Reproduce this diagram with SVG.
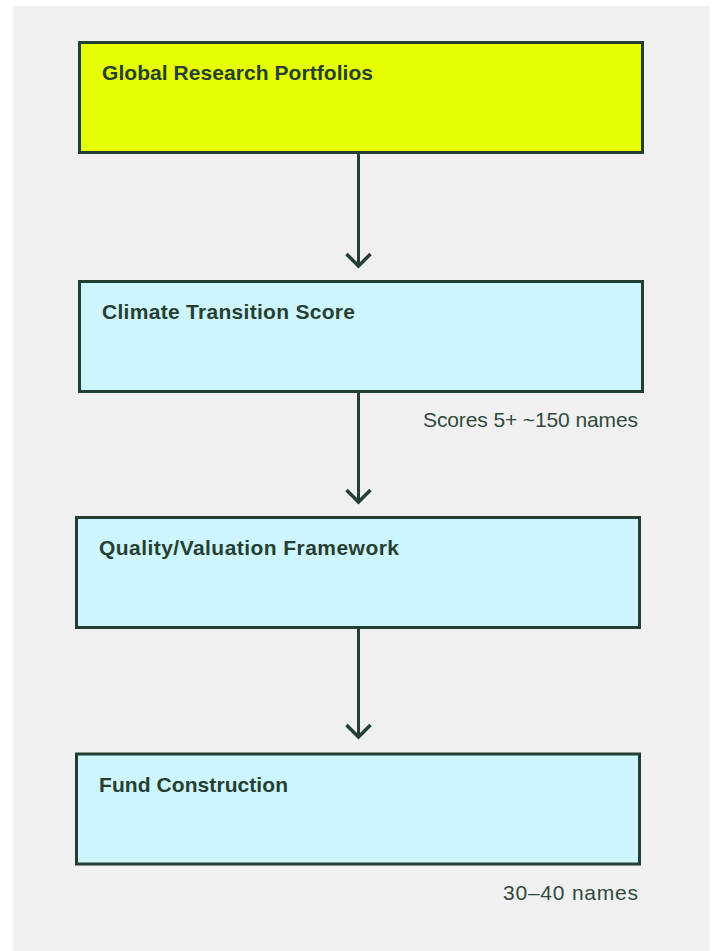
<svg xmlns="http://www.w3.org/2000/svg" width="715" height="951" viewBox="0 0 715 951">
  <style>
    .box { stroke: #233f33; stroke-width: 3; }
    .yellow { fill: #e5ff00; }
    .cyan { fill: #ccf5fd; }
    .title { font-family: "Liberation Sans", Arial, sans-serif; font-weight: bold; font-size: 21px; fill: #263f32; }
    .note { font-family: "Liberation Sans", Arial, sans-serif; font-size: 21px; fill: #2f4a3d; text-anchor: end; }
    .conn { stroke: #233f33; stroke-width: 3; fill: none; }
  </style>
  <defs>
    <marker id="chev" markerUnits="userSpaceOnUse" viewBox="-16 -16 20 32" refX="0" refY="0" markerWidth="20" markerHeight="32" orient="auto">
      <path d="M-12,-12 L0,0 L-12,12" fill="none" stroke="#233f33" stroke-width="3.5"/>
    </marker>
  </defs>
  <rect x="13" y="6" width="697" height="945" fill="#f0f0f0"/>
  <g id="connectors">
    <line class="conn" x1="358.5" y1="154" x2="358.5" y2="266" marker-end="url(#chev)"/>
    <line class="conn" x1="358.5" y1="393" x2="358.5" y2="502" marker-end="url(#chev)"/>
    <line class="conn" x1="358.5" y1="629" x2="358.5" y2="737" marker-end="url(#chev)"/>
  </g>
  <g id="global-research-portfolios">
    <rect class="box yellow" x="79.5" y="42.5" width="563" height="110"/>
    <text class="title" x="102" y="80" textLength="271">Global Research Portfolios</text>
  </g>
  <g id="climate-transition-score">
    <rect class="box cyan" x="79.5" y="281.5" width="563" height="110"/>
    <text class="title" x="102" y="319" textLength="253">Climate Transition Score</text>
    <text class="note" x="638" y="427" textLength="215">Scores 5+ ~150 names</text>
  </g>
  <g id="quality-valuation-framework">
    <rect class="box cyan" x="76.5" y="517.5" width="563" height="110"/>
    <text class="title" x="99" y="555" textLength="300">Quality/Valuation Framework</text>
  </g>
  <g id="fund-construction">
    <rect class="box cyan" x="76.5" y="754" width="563" height="110"/>
    <text class="title" x="99" y="792" textLength="189">Fund Construction</text>
    <text class="note" x="638" y="900" textLength="135">30–40 names</text>
  </g>
</svg>
